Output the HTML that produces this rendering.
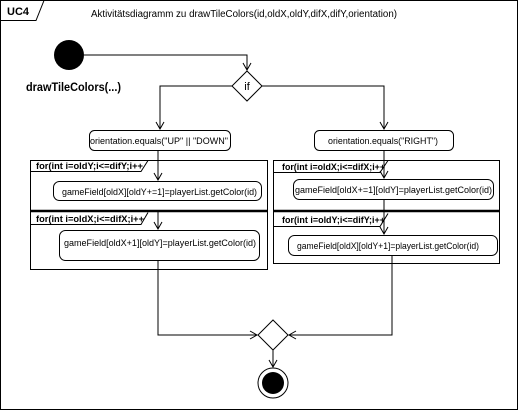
<!DOCTYPE html>
<html><head><meta charset="utf-8"><style>
html,body{margin:0;padding:0;background:#fff;}
svg{display:block;}
text{font-family:"Liberation Sans",sans-serif;fill:#000;}
</style></head><body>
<svg width="519" height="411" viewBox="0 0 519 411" xmlns="http://www.w3.org/2000/svg">
<defs>
<marker id="a" markerWidth="10" markerHeight="10" refX="8" refY="5" orient="auto" markerUnits="userSpaceOnUse">
<path d="M1,1 L8,5 L1,9" fill="none" stroke="#000" stroke-width="1"/>
</marker>
</defs>
<rect x="0.5" y="0.5" width="517" height="409" fill="#fff" stroke="#000"/>
<path d="M0.5,20.5 H36 L44,0.5" fill="none" stroke="#000"/>
<text x="7" y="15" font-size="11" font-weight="bold" textLength="22" lengthAdjust="spacingAndGlyphs">UC4</text>
<text x="91" y="17" font-size="10" textLength="306" lengthAdjust="spacingAndGlyphs">Aktivitätsdiagramm zu drawTileColors(id,oldX,oldY,difX,difY,orientation)</text>

<circle cx="69" cy="55" r="15" fill="#000"/>
<text x="26" y="91" font-size="11.5" font-weight="bold" textLength="95" lengthAdjust="spacingAndGlyphs">drawTileColors(...)</text>
<path d="M84,55 H247 V70" fill="none" stroke="#000" marker-end="url(#a)"/>
<polygon points="247,71 262,86 247,101 232,86" fill="#fff" stroke="#000"/>
<text x="247" y="90" font-size="11" text-anchor="middle">if</text>
<path d="M232,86 H160 V129" fill="none" stroke="#000" marker-end="url(#a)"/>
<path d="M262,86 H384 V129" fill="none" stroke="#000" marker-end="url(#a)"/>

<rect x="89.5" y="130.5" width="141" height="20" rx="5" fill="#fff" stroke="#000"/>
<text x="90" y="144" font-size="9" textLength="138" lengthAdjust="spacingAndGlyphs">orientation.equals("UP" || "DOWN"</text>
<rect x="314.5" y="130.5" width="139" height="20" rx="5" fill="#fff" stroke="#000"/>
<text x="328" y="144" font-size="9" textLength="110" lengthAdjust="spacingAndGlyphs">orientation.equals("RIGHT")</text>

<!-- left frame -->
<rect x="30.5" y="160.5" width="237" height="109" fill="none" stroke="#000"/>
<line x1="30" y1="211" x2="268" y2="211" stroke="#000" stroke-width="2.5"/>
<path d="M30.5,171.5 H141 L148,160.5" fill="none" stroke="#000"/>
<text x="36" y="169" font-size="9" font-weight="bold" textLength="107" lengthAdjust="spacingAndGlyphs">for(int i=oldY;i&lt;=difY;i++</text>
<path d="M30.5,224.5 H141 L148,212.5" fill="none" stroke="#000"/>
<text x="36" y="222" font-size="9" font-weight="bold" textLength="108" lengthAdjust="spacingAndGlyphs">for(int i=oldX;i&lt;=difX;i++</text>
<path d="M158,150 V180" fill="none" stroke="#000" marker-end="url(#a)"/>
<path d="M158,212 V229" fill="none" stroke="#000" marker-end="url(#a)"/>
<rect x="53.5" y="181.5" width="208" height="19" rx="6" fill="#fff" stroke="#000"/>
<text x="62" y="195" font-size="9" textLength="195" lengthAdjust="spacingAndGlyphs">gameField[oldX][oldY+=1]=playerList.getColor(id)</text>
<rect x="59.5" y="230.5" width="200" height="30" rx="6" fill="#fff" stroke="#000"/>
<text x="64" y="246" font-size="9" textLength="192" lengthAdjust="spacingAndGlyphs">gameField[oldX+1][oldY]=playerList.getColor(id)</text>

<!-- right frame -->
<rect x="273.5" y="160.5" width="226" height="103" fill="none" stroke="#000"/>
<line x1="273" y1="211" x2="500" y2="211" stroke="#000" stroke-width="2.5"/>
<path d="M273.5,172.5 H380 L388,160.5" fill="none" stroke="#000"/>
<text x="282" y="170" font-size="9" font-weight="bold" textLength="103" lengthAdjust="spacingAndGlyphs">for(int i=oldX;i&lt;=difX;i++</text>
<path d="M273.5,226.5 H380 L388,213.5" fill="none" stroke="#000"/>
<text x="282" y="223" font-size="9" font-weight="bold" textLength="103" lengthAdjust="spacingAndGlyphs">for(int i=oldY;i&lt;=difY;i++</text>
<path d="M384,150 V178" fill="none" stroke="#000" marker-end="url(#a)"/>
<path d="M384,199 V234" fill="none" stroke="#000" marker-end="url(#a)"/>
<rect x="293.5" y="179.5" width="200" height="20" rx="6" fill="#fff" stroke="#000"/>
<text x="295" y="193" font-size="9" textLength="197" lengthAdjust="spacingAndGlyphs">gameField[oldX+=1][oldY]=playerList.getColor(id)</text>
<rect x="288.5" y="235.5" width="209" height="20" rx="6" fill="#fff" stroke="#000"/>
<text x="297" y="249" font-size="9" textLength="182" lengthAdjust="spacingAndGlyphs">gameField[oldX][oldY+1]=playerList.getColor(id)</text>

<!-- merge -->
<path d="M158,260 V335 H257" fill="none" stroke="#000" marker-end="url(#a)"/>
<path d="M392,255 V335 H289" fill="none" stroke="#000" marker-end="url(#a)"/>
<polygon points="273,320 288,335 273,350 258,335" fill="#fff" stroke="#000"/>
<path d="M273,350 V367" fill="none" stroke="#000" marker-end="url(#a)"/>
<circle cx="273" cy="383" r="15" fill="#fff" stroke="#000"/>
<circle cx="273" cy="383" r="11" fill="#000"/>
</svg>
</body></html>
